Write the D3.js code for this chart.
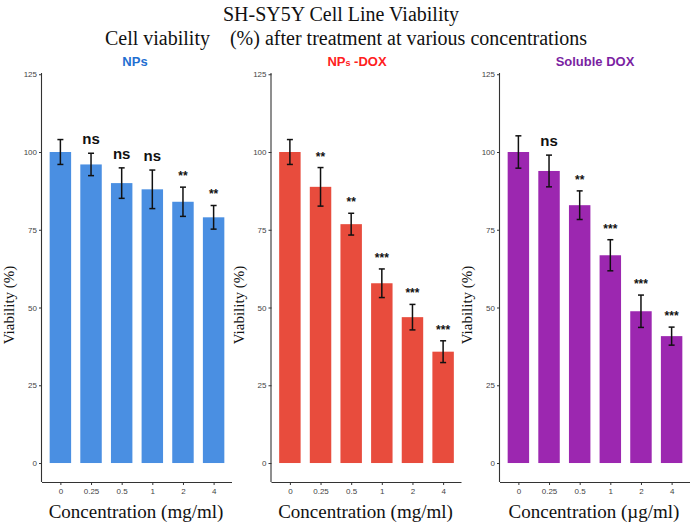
<!DOCTYPE html>
<html><head><meta charset="utf-8">
<script src="https://cdn.jsdelivr.net/npm/d3@7"></script>
<style>body{margin:0;background:#fff}svg{display:block}</style>
</head><body>
<script>
const categories = ["0","0.25","0.5","1","2","4"];
const yTicks = [0,25,50,75,100,125];
const panelNames = ["NPs","NPs-DOX","Soluble DOX"];
const unitLabels = ["Concentration (mg/ml)","Concentration (mg/ml)","Concentration (\u00b5g/ml)"];
const npsMean = [100,96,90,88,84,79];
const npsSD   = [4,3.6,4.9,6.2,4.7,3.8];
const npsSig  = ["","ns","ns","ns","**","**"];
const doxNpMean = [100,88.8,76.8,57.8,46.9,35.8];
const doxNpSD   = [4,6.2,3.5,4.6,4.1,3.5];
const doxNpSig  = ["","**","**","***","***","***"];
const solMean = [100,93.9,82.9,66.8,48.8,40.8];
const solSD   = [5.2,5.1,4.6,5,5.2,2.9];
const solSig  = ["","ns","**","***","***","***"];

const panels = [
  {mean:npsMean, sd:npsSD, sig:npsSig, fill:"#4A8FE2", tcol:"#1F6FD1", x0:42, tx:135},
  {mean:doxNpMean, sd:doxNpSD, sig:doxNpSig, fill:"#E84C3D", tcol:"#FF2020", x0:271.5, tx:357},
  {mean:solMean, sd:solSD, sig:solSig, fill:"#9C27B0", tcol:"#7B1FA2", x0:500, tx:595}
];

const W=694,H=526;
const svg=d3.select("body").append("svg").attr("width",W).attr("height",H);
const serif="'Liberation Serif','Times New Roman',serif";
const sans="'Liberation Sans',Arial,sans-serif";

svg.append("text").attr("x",341).attr("y",21).attr("text-anchor","middle")
  .style("font-family",serif).style("font-size","20px").attr("fill","#111")
  .text("SH-SY5Y Cell Line Viability");
svg.append("text").attr("x",346).attr("y",45).attr("text-anchor","middle")
  .style("font-family",serif).style("font-size","20px").attr("fill","#111")
  .style("white-space","pre").text("Cell viability    (%) after treatment at various concentrations");

const y=d3.scaleLinear().domain([-6.1,125.4]).range([482,73]);

panels.forEach((p,i)=>{
  const g=svg.append("g");
  const x=d3.scalePoint().domain(categories).range([p.x0,p.x0+190]).padding(0.6);
  const bw=x.step()*0.7;
  // bars
  g.selectAll("rect.bar").data(categories).join("rect")
    .attr("x",d=>x(d)-bw/2).attr("width",bw)
    .attr("y",(d,j)=>y(p.mean[j])).attr("height",(d,j)=>y(0)-y(p.mean[j]))
    .attr("fill",p.fill);
  // error bars
  const eb=g.selectAll("g.eb").data(categories).join("g");
  eb.append("line").attr("x1",d=>x(d)).attr("x2",d=>x(d))
    .attr("y1",(d,j)=>y(p.mean[j]+p.sd[j])).attr("y2",(d,j)=>y(p.mean[j]-p.sd[j]));
  eb.append("line").attr("x1",d=>x(d)-3).attr("x2",d=>x(d)+3)
    .attr("y1",(d,j)=>y(p.mean[j]+p.sd[j])).attr("y2",(d,j)=>y(p.mean[j]+p.sd[j]));
  eb.append("line").attr("x1",d=>x(d)-3).attr("x2",d=>x(d)+3)
    .attr("y1",(d,j)=>y(p.mean[j]-p.sd[j])).attr("y2",(d,j)=>y(p.mean[j]-p.sd[j]));
  eb.selectAll("line").attr("stroke","#111").attr("stroke-width",1.5);
  // significance
  g.selectAll("text.sig").data(categories).join("text")
    .attr("x",d=>x(d)).attr("text-anchor","middle")
    .attr("y",(d,j)=>y(p.mean[j]+p.sd[j]) - (p.sig[j]==="ns"?9:7))
    .style("font-family",sans).style("font-weight","bold")
    .style("font-size",(d,j)=>p.sig[j]==="ns"?"15px":"12px")
    .attr("fill","#111").text((d,j)=>p.sig[j]);
  // axes
  const ya=g.append("g").attr("transform",`translate(${p.x0},0)`)
    .call(d3.axisLeft(y).tickValues(yTicks).tickSize(3).tickPadding(2));
  const xa=g.append("g").attr("transform",`translate(0,482)`)
    .call(d3.axisBottom(x).tickSize(3).tickPadding(3));
  [ya,xa].forEach(a=>{
    a.select(".domain").attr("stroke","#333").attr("stroke-width",1.1);
    a.selectAll(".tick line").attr("stroke","#333");
    a.selectAll(".tick text").attr("fill","#444").style("font-family",sans).style("font-size","8px");
  });
  xa.select(".domain").attr("d",`M${p.x0},0.5H${p.x0+190}`);
  ya.select(".domain").attr("d",`M-0.5,${y(125.4)}V${y(-6.1)}`);
  // titles
  const t=svg.append("text").attr("x",p.tx).attr("y",66).attr("text-anchor","middle")
    .style("font-family",sans).style("font-weight","bold").style("font-size","13px").attr("fill",p.tcol);
  if(i===1){
    t.append("tspan").text("NP");
    t.append("tspan").style("font-size","9px").text("s");
    t.append("tspan").text(" -DOX");
  } else t.text(panelNames[i]);
  svg.append("text").attr("transform",`translate(${p.x0-28},305) rotate(-90)`)
    .attr("text-anchor","middle").style("font-family",serif).style("font-size","15px")
    .attr("fill","#111").text("Viability (%)");
  svg.append("text").attr("x",p.x0+94).attr("y",518).attr("text-anchor","middle")
    .style("font-family",serif).style("font-size","19px").attr("fill","#111")
    .text(unitLabels[i]);
});
</script>
</body></html>
